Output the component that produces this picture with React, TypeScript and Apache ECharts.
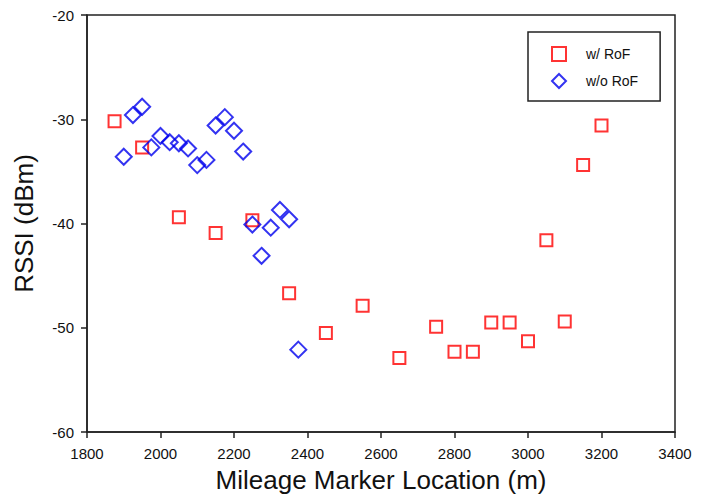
import React, { useEffect, useRef } from "react";
import * as echarts from "echarts";

const withRoFX = [1875, 1950, 2050, 2150, 2250, 2350, 2450, 2550, 2650, 2750, 2800, 2850, 2900, 2950, 3000, 3050, 3100, 3150, 3200];
const withRoFY = [-30.2, -32.7, -39.4, -40.9, -39.7, -46.7, -50.5, -47.9, -52.9, -49.9, -52.3, -52.3, -49.5, -49.5, -51.3, -41.6, -49.4, -34.4, -30.6];

const withoutRoFX = [1900, 1925, 1950, 1975, 2000, 2025, 2050, 2075, 2100, 2125, 2150, 2175, 2200, 2225, 2250, 2275, 2300, 2325, 2350, 2375];
const withoutRoFY = [-33.6, -29.6, -28.8, -32.7, -31.6, -32.2, -32.3, -32.8, -34.4, -33.9, -30.6, -29.8, -31.1, -33.1, -40.1, -43.1, -40.4, -38.7, -39.6, -52.1];

const seriesNames = ["w/ RoF", "w/o RoF"];
const xTitle = "Mileage Marker Location (m)";
const yTitle = "RSSI (dBm)";

export default function App() {
  const ref = useRef<HTMLDivElement>(null);
  useEffect(() => {
    if (!ref.current) return;
    const chart = echarts.init(ref.current, undefined, { renderer: "svg" });
    const font = "Arial, 'Liberation Sans', sans-serif";
    chart.setOption({
      animation: false,
      backgroundColor: "#fff",
      textStyle: { fontFamily: font },
      grid: {
        left: 87,
        top: 15,
        right: 33,
        bottom: 61,
        show: true,
        borderColor: "#222",
        borderWidth: 1.5,
        backgroundColor: "transparent",
      },
      legend: {
        orient: "vertical",
        left: 528,
        top: 32,
        padding: [14, 22, 12, 23],
        borderColor: "#222",
        borderWidth: 1.5,
        itemWidth: 14,
        itemHeight: 14,
        itemGap: 11,
        symbolKeepAspect: true,
        textStyle: { fontSize: 14, color: "#111", fontFamily: font, padding: [0, 0, 0, 15] },
        data: seriesNames,
      },
      xAxis: {
        type: "value",
        min: 1800,
        max: 3400,
        interval: 200,
        name: xTitle,
        nameLocation: "middle",
        nameGap: 35,
        nameTextStyle: { fontSize: 26, color: "#111", fontFamily: font },
        axisLine: { show: true, onZero: false, lineStyle: { color: "#222", width: 1.5 } },
        axisTick: { show: true, length: 6, lineStyle: { color: "#222", width: 1.5 } },
        axisLabel: { fontSize: 15, color: "#111", margin: 14, fontFamily: font, formatter: (v: number) => String(v) },
        splitLine: { show: false },
      },
      yAxis: {
        type: "value",
        min: -60,
        max: -20,
        interval: 10,
        name: yTitle,
        nameLocation: "middle",
        nameGap: 50,
        nameTextStyle: { fontSize: 26, color: "#111", fontFamily: font },
        axisLine: { show: true, onZero: false, lineStyle: { color: "#222", width: 1.5 } },
        axisTick: { show: true, length: 6, lineStyle: { color: "#222", width: 1.5 } },
        axisLabel: { fontSize: 15, color: "#111", margin: 13, fontFamily: font, formatter: (v: number) => String(v) },
        splitLine: { show: false },
      },
      series: [
        {
          name: seriesNames[0],
          type: "scatter",
          symbol: "rect",
          symbolSize: 12,
          data: withRoFX.map((x, i) => [x, withRoFY[i]]),
          itemStyle: { color: "rgba(255,255,255,0)", borderColor: "#ff0000", borderWidth: 2 },
          z: 2,
        },
        {
          name: seriesNames[1],
          type: "scatter",
          symbol: "diamond",
          symbolSize: 16,
          data: withoutRoFX.map((x, i) => [x, withoutRoFY[i]]),
          itemStyle: { color: "rgba(255,255,255,0)", borderColor: "#0000ee", borderWidth: 2 },
          z: 3,
        },
      ],
    });
    return () => chart.dispose();
  }, []);
  return <div ref={ref} style={{ width: 708, height: 498, position: "absolute", left: 0, top: 0 }} />;
}
